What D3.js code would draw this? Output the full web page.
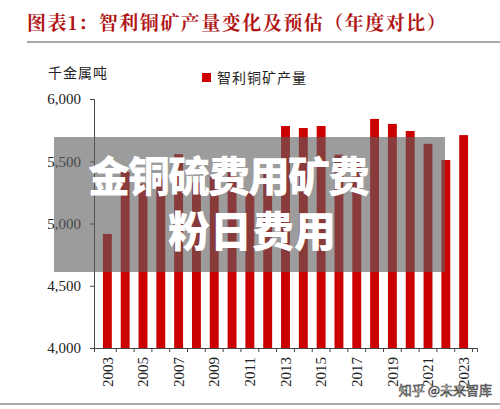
<!DOCTYPE html>
<html><head><meta charset="utf-8">
<script src="https://cdn.jsdelivr.net/npm/d3@7"></script>
<style>body{margin:0;background:#fff}</style></head>
<body><svg id="c" width="500" height="409"></svg>
<script>
const years=["2003","2004","2005","2006","2007","2008","2009","2010","2011","2012","2013","2014","2015","2016","2017","2018","2019","2020","2021","2022","2023"];
const production=[4916,5413,5321,5361,5557,5330,5390,5419,5263,5434,5783,5767,5783,5553,5504,5840,5800,5743,5640,5510,5710];
const yTicks=[4000,4500,5000,5500,6000];
const xTickLabels=["2003","2005","2007","2009","2011","2013","2015","2017","2019","2021","2023"];

const svg=d3.select("#c");
const serif="'Liberation Serif','DejaVu Serif',serif";
const cjk="'Noto Sans CJK SC',sans-serif";
svg.append("text").attr("x",27).attr("y",30).attr("fill","#b01515").attr("font-family","'Noto Serif CJK SC','Noto Sans CJK SC'").attr("font-weight","bold").attr("font-size",19).attr("letter-spacing",1.5).text("图表1：智利铜矿产量变化及预估（年度对比）");
svg.append("line").attr("x1",27).attr("x2",500).attr("y1",42).attr("y2",42).attr("stroke","#555").attr("stroke-width",1);
svg.append("line").attr("x1",0).attr("x2",500).attr("y1",404).attr("y2",404).attr("stroke","#555").attr("stroke-width",1);

const x=d3.scaleBand().domain(years).range([94,477]).padding(0.5);
const y=d3.scaleLinear().domain([4000,6000]).range([348,99]);

svg.append("text").attr("x",48).attr("y",78).attr("font-family",cjk).attr("font-size",14).attr("fill","#222").attr("letter-spacing",1).text("千金属吨");
svg.append("rect").attr("x",202).attr("y",73).attr("width",9).attr("height",9).attr("fill","#cc0000");
svg.append("text").attr("x",217).attr("y",83).attr("font-family",cjk).attr("font-size",14).attr("fill","#222").attr("letter-spacing",1).text("智利铜矿产量");

svg.selectAll("rect.bar").data(production).enter().append("rect").attr("class","bar")
 .attr("x",(d,i)=>x(years[i])).attr("width",x.bandwidth())
 .attr("y",d=>y(d)).attr("height",d=>y(4000)-y(d)).attr("fill","#cc0000");

const ya=svg.append("g").attr("transform","translate(94,0)").call(d3.axisLeft(y).tickValues(yTicks).tickSize(4).tickFormat(d3.format(",")));
ya.selectAll("text").attr("font-family",serif).attr("font-size",15).attr("fill","#222").attr("dx",-6);
const xa=svg.append("g").attr("transform","translate(0,348)").call(d3.axisBottom(x).tickSize(4).tickFormat(d=>xTickLabels.includes(d)?d:""));
xa.selectAll(".tick line").attr("transform",`translate(${x.step()/2},0)`);
xa.selectAll("text").attr("font-family",serif).attr("font-size",15).attr("fill","#222")
 .attr("transform","rotate(-90)").attr("text-anchor","end").attr("x",-9).attr("y",0).attr("dy","0.35em");
svg.selectAll(".domain").attr("stroke","#444");
svg.selectAll(".tick line").attr("stroke","#444");

svg.append("rect").attr("x",54).attr("y",137).attr("width",391).attr("height",135).attr("fill","rgba(95,95,95,0.62)");
svg.append("text").attr("x",228).attr("y",192).attr("text-anchor","middle").attr("font-family",cjk).attr("font-weight","900").attr("font-size",42).attr("fill","#fff").attr("letter-spacing",-2).text("金铜硫费用矿费");
svg.append("text").attr("x",252).attr("y",247).attr("text-anchor","middle").attr("font-family",cjk).attr("font-weight","900").attr("font-size",42).attr("fill","#fff").text("粉日费用");
svg.append("text").attr("x",492).attr("y",395).attr("text-anchor","end").attr("font-family",cjk).attr("font-size",13).attr("fill","#fff").attr("stroke","#333").attr("stroke-width",0.6).text("知乎 @未来智库");
</script></body></html>
